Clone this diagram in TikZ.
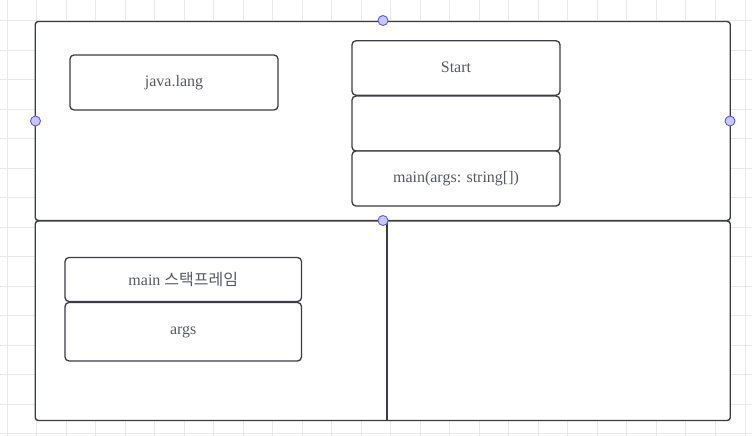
\documentclass[tikz,border=0pt]{standalone}
\usepackage{fontspec}
\setmainfont{Liberation Serif}
\newfontfamily\krfont{Noto Sans CJK KR}
\definecolor{edge}{HTML}{3A3D44}
\definecolor{txt}{HTML}{555A62}
\definecolor{gridc}{HTML}{E8E8E8}
\definecolor{hfill}{HTML}{C8C8FF}
\definecolor{hdraw}{HTML}{5A5AE6}
\tikzset{
  panel/.style={draw=edge, line width=1.4pt, fill=white, rounded corners=3pt, inner sep=0pt, outer sep=0pt},
  divider/.style={draw=edge, line width=1.4pt},
  box/.style={draw=edge, line width=1.3pt, fill=white, rounded corners=4pt, inner sep=0pt, outer sep=0pt, text=txt, font=\fontsize{16}{19}\selectfont},
  handle/.style={circle, draw=hdraw, fill=hfill, line width=0.9pt, minimum size=10pt, inner sep=0pt},
}
\begin{document}
\begin{tikzpicture}[x=1pt,y=-1pt]
\useasboundingbox (0,0) rectangle (752,436);
\fill[white] (0,0) rectangle (752,436);
\foreach \i in {0,...,25} \draw[gridc, line width=1pt] ({7+29.52*\i},0) -- ({7+29.52*\i},436);
\foreach \j in {0,...,14} \draw[gridc, line width=1pt] (0,{20.7+29.52*\j}) -- (752,{20.7+29.52*\j});
% panels
\node[panel, minimum width=695pt, minimum height=199pt] (top) at (382.75,121) {};
\node[panel, minimum width=695pt, minimum height=199.5pt] (bot) at (382.75,320.75) {};
\coordinate (divT) at (387,221);
\coordinate (divB) at (387,420.5);
\draw[divider] (divT) -- (divB);
% inner boxes
\node[box, minimum width=208pt, minimum height=55pt] (jl) at (174,82.5) {java.lang};
\node[box, minimum width=208pt, minimum height=54.5pt] (start) at (456,68) {\raisebox{0.8pt}{Start}};
\node[box, minimum width=208pt, minimum height=55pt] (mid) at (456,123.5) {};
\node[box, minimum width=208pt, minimum height=55pt] (mainm) at (456,178.5) {main(args: string[])};
\node[box, minimum width=236.5pt, minimum height=44pt] (frame) at (183.25,279.5) {main {\krfont 스택프레임}};
\node[box, minimum width=236.5pt, minimum height=58.5pt] (args) at (183.25,331.75) {args};
% handles
\node[handle] (h1) at (383,20.5) {};
\node[handle] (h2) at (35.5,121) {};
\node[handle] (h3) at (730,121) {};
\node[handle] (h4) at (383,220.5) {};
\end{tikzpicture}
\end{document}
